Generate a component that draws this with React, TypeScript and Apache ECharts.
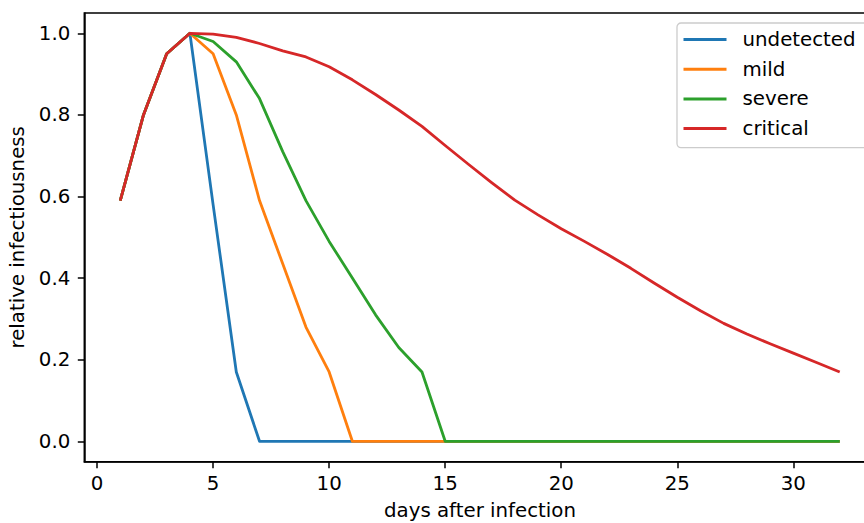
import React, { useEffect, useRef } from "react";
import * as echarts from "echarts";

const days = [1, 2, 3, 4, 5, 6, 7, 8, 9, 10, 11, 12, 13, 14, 15, 16, 17, 18, 19, 20, 21, 22, 23, 24, 25, 26, 27, 28, 29, 30, 31, 32];
const undetected = [0.59, 0.8, 0.95, 1.0, 0.58, 0.17, 0, 0, 0, 0, 0, 0, 0, 0, 0, 0, 0, 0, 0, 0, 0, 0, 0, 0, 0, 0, 0, 0, 0, 0, 0, 0];
const mild = [0.59, 0.8, 0.95, 1.0, 0.95, 0.8, 0.59, 0.435, 0.28, 0.17, 0, 0, 0, 0, 0, 0, 0, 0, 0, 0, 0, 0, 0, 0, 0, 0, 0, 0, 0, 0, 0, 0];
const severe = [0.59, 0.8, 0.95, 1.0, 0.98, 0.93, 0.84, 0.71, 0.59, 0.49, 0.4, 0.31, 0.23, 0.17, 0, 0, 0, 0, 0, 0, 0, 0, 0, 0, 0, 0, 0, 0, 0, 0, 0, 0];
const critical = [0.59, 0.8, 0.95, 1.0, 0.998, 0.99, 0.975, 0.957, 0.942, 0.918, 0.886, 0.85, 0.812, 0.772, 0.725, 0.679, 0.634, 0.591, 0.555, 0.521, 0.49, 0.458, 0.424, 0.388, 0.353, 0.32, 0.289, 0.263, 0.239, 0.216, 0.193, 0.17];
const seriesNames = ["undetected", "mild", "severe", "critical"];
const seriesColors = ["#1f77b4", "#ff7f0e", "#2ca02c", "#d62728"];
const xTicks = [0, 5, 10, 15, 20, 25, 30];
const yTicks = [0, 0.2, 0.4, 0.6, 0.8, 1.0];

const FONT = "DejaVu Sans";
const FS = 19.8;

export default function App() {
  const ref = useRef<HTMLDivElement>(null);
  useEffect(() => {
    if (!ref.current) return;
    const chart = echarts.init(ref.current, undefined, { renderer: "svg" });
    const allData = [undetected, mild, severe, critical];
    chart.setOption({
      animation: false,
      backgroundColor: "#ffffff",
      textStyle: { fontFamily: FONT },
      grid: {
        left: 84.3,
        top: 12.9,
        width: 791.4,
        height: 448.8,
        show: true,
        borderColor: "#000000",
        borderWidth: 1.5,
        backgroundColor: "transparent",
        outerBoundsMode: "none",
      },
      legend: {
        orient: "vertical",
        left: 677,
        top: 23,
        icon: "rect",
        itemWidth: 43,
        itemHeight: 3,
        itemGap: 9.7,
        padding: [6.5, 14, 9, 6.5],
        borderColor: "#cccccc",
        borderWidth: 1.3,
        borderRadius: 4,
        backgroundColor: "rgba(255,255,255,0.8)",
        textStyle: { fontFamily: FONT, fontSize: FS, color: "#000", lineHeight: 20, padding: [0, 0, 0, 11] },
        data: seriesNames,
      },
      xAxis: {
        type: "value",
        min: -0.55,
        max: 33.55,
        name: "days after infection",
        nameLocation: "middle",
        nameGap: 39,
        nameTextStyle: { fontFamily: FONT, fontSize: FS, color: "#000" },
        axisLine: { show: true, onZero: false, lineStyle: { color: "#000", width: 1.5 } },
        axisTick: { show: true, inside: false, length: 6.5, lineStyle: { color: "#000", width: 1.5 }, customValues: xTicks },
        axisLabel: { fontFamily: FONT, fontSize: FS, color: "#000", margin: 12, customValues: xTicks },
        splitLine: { show: false },
      },
      yAxis: {
        type: "value",
        min: -0.05,
        max: 1.05,
        name: "relative infectiousness",
        nameLocation: "middle",
        nameGap: 54,
        nameRotate: 90,
        nameTextStyle: { fontFamily: FONT, fontSize: FS, color: "#000" },
        axisLine: { show: true, onZero: false, lineStyle: { color: "#000", width: 1.5 } },
        axisTick: { show: true, inside: false, length: 6.5, lineStyle: { color: "#000", width: 1.5 }, customValues: yTicks },
        axisLabel: {
          fontFamily: FONT,
          fontSize: FS,
          color: "#000",
          margin: 14,
          customValues: yTicks,
          formatter: (v: number) => v.toFixed(1),
        },
        splitLine: { show: false },
      },
      series: seriesNames.map((name, i) => ({
        name,
        type: "line",
        showSymbol: false,
        symbol: "none",
        color: seriesColors[i],
        lineStyle: { color: seriesColors[i], width: 2.8, join: "round" },
        data: days.map((d, j) => [d, allData[i][j]]),
      })),
    });
    return () => chart.dispose();
  }, []);
  return <div ref={ref} style={{ position: "fixed", left: 0, top: 0, width: 864, height: 523 }} />;
}
